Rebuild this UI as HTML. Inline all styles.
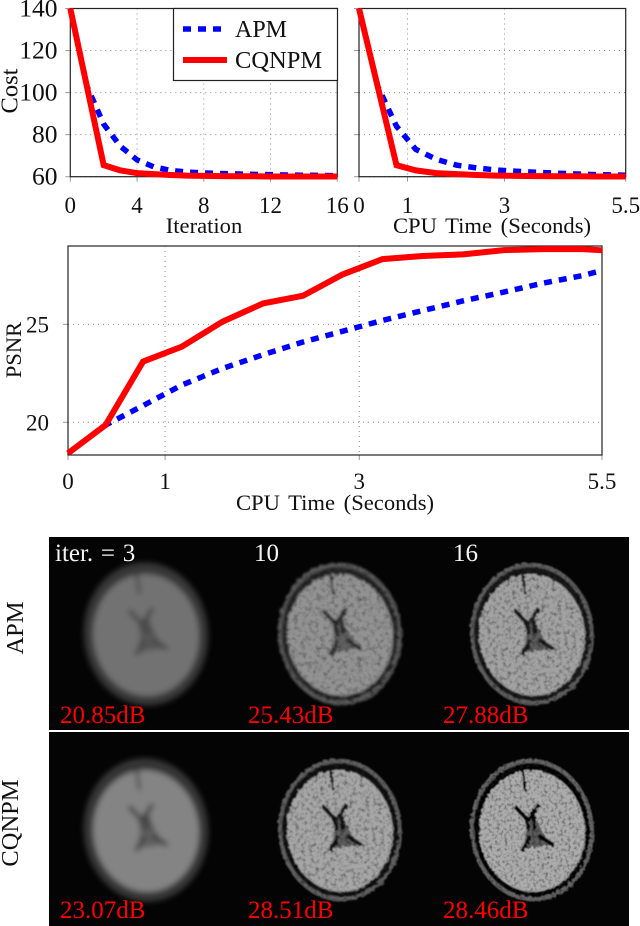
<!DOCTYPE html>
<html lang="en">
<head>
<meta charset="utf-8">
<title>APM vs CQNPM comparison</title>
<style>
html,body{margin:0;padding:0;background:#fff;width:640px;height:926px;overflow:hidden}
svg{display:block;font-family:"Liberation Serif",serif}
.tick{font-size:23px;fill:#111}
.title{font-size:22.6px;fill:#111}
.grid{stroke:#8a8a8a;stroke-width:1;stroke-dasharray:1 4;fill:none}
.frame{fill:none;stroke:#222;stroke-width:1.2}
.mark{stroke:#999;stroke-width:1}
.apm{fill:none;stroke:#0000ff;stroke-width:5.5;stroke-dasharray:8 7}
.cq{fill:none;stroke:#ff0000;stroke-width:6;stroke-linejoin:miter}
.db{font-size:25px;fill:#ff0000}
.it{font-size:25px;fill:#f4f4f4}
.row{font-size:24.5px;fill:#111}
</style>
</head>
<body>
<svg id="root" xmlns="http://www.w3.org/2000/svg" width="640" height="926" viewBox="0 0 640 926">
<defs>
<filter id="soft" x="-20%" y="-20%" width="140%" height="140%"><feGaussianBlur stdDeviation="3"/></filter>
<filter id="softer" x="-20%" y="-20%" width="140%" height="140%">
<feTurbulence type="fractalNoise" baseFrequency="0.2" numOctaves="2" seed="3" result="n"/>
<feDisplacementMap in="SourceGraphic" in2="n" scale="4" result="d"/>
<feGaussianBlur in="d" stdDeviation="1.3" result="b"/>
<feColorMatrix in="n" type="matrix" values="0 0 0 0 0  0 0 0 0 0  0 0 0 0 0  0 0 0 -1.2 0.68" result="spots"/>
<feComposite in="spots" in2="b" operator="in" result="sp"/>
<feMerge><feMergeNode in="b"/><feMergeNode in="sp"/></feMerge>
</filter>
<filter id="tex" x="-20%" y="-20%" width="140%" height="140%">
<feTurbulence type="fractalNoise" baseFrequency="0.25" numOctaves="2" seed="4" result="n"/>
<feDisplacementMap in="SourceGraphic" in2="n" scale="4" result="d"/>
<feGaussianBlur in="d" stdDeviation="0.8" result="b"/>
<feColorMatrix in="n" type="matrix" values="0 0 0 0 0  0 0 0 0 0  0 0 0 0 0  0 0 0 -1.5 0.85" result="spots"/>
<feComposite in="spots" in2="b" operator="in" result="sp"/>
<feMerge><feMergeNode in="b"/><feMergeNode in="sp"/></feMerge>
</filter>
<filter id="tex2" x="-20%" y="-20%" width="140%" height="140%">
<feTurbulence type="fractalNoise" baseFrequency="0.32" numOctaves="2" seed="9" result="n"/>
<feDisplacementMap in="SourceGraphic" in2="n" scale="4" result="d"/>
<feGaussianBlur in="d" stdDeviation="0.5" result="b"/>
<feColorMatrix in="n" type="matrix" values="0 0 0 0 0  0 0 0 0 0  0 0 0 0 0  0 0 0 -1.8 1" result="spots"/>
<feComposite in="spots" in2="b" operator="in" result="sp"/>
<feMerge><feMergeNode in="b"/><feMergeNode in="sp"/></feMerge>
</filter>
</defs>
<g id="panels"></g>
<g>
<text class="it" x="55" y="561" word-spacing="1.5">iter. = 3</text>
<text class="it" x="254" y="561">10</text>
<text class="it" x="453" y="561">16</text>
<text class="db" x="60" y="723">20.85dB</text>
<text class="db" x="248" y="723">25.43dB</text>
<text class="db" x="443" y="723">27.88dB</text>
<text class="db" x="60" y="918">23.07dB</text>
<text class="db" x="248" y="918">28.51dB</text>
<text class="db" x="443" y="918">28.46dB</text>
<text class="row" text-anchor="middle" transform="translate(23,628) rotate(-90)">APM</text>
<text class="row" text-anchor="middle" transform="translate(18,823) rotate(-90)">CQNPM</text>
</g>
<g id="charts"></g>
<g>
<rect x="173.5" y="8.5" width="164" height="72" fill="#fff" stroke="#222" stroke-width="1.2"/>
<line class="apm" x1="183" y1="29" x2="227" y2="29"/>
<line class="cq" x1="183" y1="60" x2="227" y2="60"/>
<text x="235" y="37" font-size="24" fill="#111">APM</text>
<text x="235" y="68" font-size="24.5" fill="#111">CQNPM</text>
</g>
</svg>
<script>
// Cost vs iteration
const iterations = [0,1,2,3,4,5,6,7,8,9,10,11,12,13,14,15,16];
const costApmByIter = [140,103,85,74.5,68,64.7,63,62.2,61.8,61.5,61.3,61.1,61,60.8,60.7,60.6,60.5];
const costCqByIter = [140,102.7,65.5,63,61.7,61.2,60.8,60.5,60.4,60.3,60.2,60.2,60.1,60.1,60.1,60.1,60.1];
// Cost vs CPU time
const times = [0,0.387,0.773,1.172,1.592,2.01,2.42,2.83,3.24,3.65,4.07,4.49,4.89,5.31,5.5];
const costApmByTime = [140,103,84,73,68.3,65.5,64.2,63.2,62.6,62.1,61.7,61.3,61,60.8,60.7];
const costCqByTime = [140,102.7,65.5,63,61.7,61.2,60.8,60.5,60.4,60.3,60.2,60.2,60.1,60.1,60.1];
// PSNR vs CPU time
const psnrApm = [18.42,19.86,20.85,21.9,22.75,23.45,24.1,24.65,25.2,25.7,26.2,26.65,27.1,27.5,27.75];
const psnrCq = [18.42,19.86,23.1,23.86,25.14,26.07,26.46,27.55,28.33,28.49,28.57,28.79,28.84,28.84,28.78];
// Tick labels
const iterTicks = [0,4,8,12,16];
const timeTicks = [0,1,3,5.5];
const costTicks = [60,80,100,120,140];
const psnrTicks = [20,25];

const NS = 'http://www.w3.org/2000/svg';
function mk(parent, tag, attrs, text) {
  const e = document.createElementNS(NS, tag);
  for (const k in attrs) e.setAttribute(k, attrs[k]);
  if (text !== undefined) e.textContent = text;
  parent.appendChild(e);
  return e;
}
function scale(d0, d1, r0, r1) {
  return v => r0 + (v - d0) / (d1 - d0) * (r1 - r0);
}
function chart(cfg) {
  const root = document.getElementById('charts');
  const g = mk(root, 'g', {});
  
  
  const sx = scale(cfg.xd[0], cfg.xd[1], cfg.l, cfg.r);
  const sy = scale(cfg.yd[0], cfg.yd[1], cfg.b, cfg.t);
  cfg.xTicks.forEach(v => {
    const x = sx(v);
    if (v !== cfg.xd[0] && v !== cfg.xd[1]) {
      const gl = mk(g, 'line', {class:'grid', x1:x, x2:x, y1:cfg.t, y2:cfg.b});
      
      
    }
    const tk = mk(g, 'line', {class:'mark', x1:x, x2:x, y1:cfg.b, y2:cfg.b + 5});
    
    
    const lb = mk(g, 'text', {class:'tick', x:x, y:cfg.xLabelY, 'text-anchor':'middle'}, v);
    
    
  });
  cfg.yTicks.forEach(v => {
    const y = sy(v);
    if (v !== cfg.yd[1]) {
      const gl = mk(g, 'line', {class:'grid', x1:cfg.l, x2:cfg.r, y1:y, y2:y});
      
      
    }
    const tk = mk(g, 'line', {class:'mark', x1:cfg.l - 5, x2:cfg.l, y1:y, y2:y});
    
    
    if (cfg.yLabels) {
      const lb = mk(g, 'text', {class:'tick', x:cfg.yLabelX, y:y + 8, 'text-anchor':'end', 'font-size':cfg.yFont, style:'font-size:' + cfg.yFont + 'px'}, v);
      
      
    }
  });
  const fr = mk(g, 'rect', {class:'frame', x:cfg.l, y:cfg.t, width:cfg.r - cfg.l, height:cfg.b - cfg.t});
  
  
  const pts = (xs, ys) => xs.map((x, i) => sx(x).toFixed(2) + ',' + sy(ys[i]).toFixed(2)).join(' ');
  const a = mk(g, 'polyline', {class:'apm', points:pts(cfg.xs, cfg.apm)});
  
  
  const c = mk(g, 'polyline', {class:'cq', points:pts(cfg.xs, cfg.cq)});
  
  
  const xt = mk(g, 'text', {class:'title', x:cfg.xTitleX, y:cfg.xTitleY, 'text-anchor':'middle', 'word-spacing':cfg.ws || 0}, cfg.xTitle);
  
  
  if (cfg.yTitle) {
    const yt = mk(g, 'text', {class:'title', 'text-anchor':'middle', style:'font-size:' + cfg.yTitleFont + 'px', transform:'translate(' + cfg.yTitleX + ',' + cfg.yTitleY + ') rotate(-90)'}, cfg.yTitle);
    
    
  }
}
chart({name:'cost-vs-iteration-chart', l:70.3, r:337.3, t:8.5, b:176.7, xd:[0,16], yd:[60,140],
  xs:iterations, apm:costApmByIter, cq:costCqByIter, xTicks:iterTicks, yTicks:costTicks, yLabels:true, yLabelX:57.5, yFont:25.5,
  xLabelY:213, xTitle:'Iteration', xTitleX:204, xTitleY:233, yTitle:'Cost', yTitleX:17.5, yTitleY:91, yTitleFont:24.5});
chart({name:'cost-vs-time-chart', l:359, r:625.7, t:8.5, b:176.7, xd:[0,5.5], yd:[60,140],
  xs:times, apm:costApmByTime, cq:costCqByTime, xTicks:timeTicks, yTicks:costTicks, yLabels:false,
  xLabelY:213, xTitle:'CPU Time (Seconds)', xTitleX:492, xTitleY:233, ws:3});
chart({name:'psnr-vs-time-chart', l:68, r:602, t:246, b:455, xd:[0,5.5], yd:[18.33,29],
  xs:times, apm:psnrApm, cq:psnrCq, xTicks:timeTicks, yTicks:psnrTicks, yLabels:true, yLabelX:49, yFont:23,
  xLabelY:489, xTitle:'CPU Time (Seconds)', xTitleX:335, xTitleY:510, ws:3, yTitle:'PSNR', yTitleX:21, yTitleY:350, yTitleFont:22.5});

// Brain reconstruction panels
const panelList = [
 {n:'apm-iter-3', cx:146,cy:634,f:'soft',skull:'#3a3a3a',ring:'#353535',brain:'#727272',mid:'#575757',vent:'#444'},
 {n:'apm-iter-10', cx:340,cy:634,f:'softer',skull:'#5a5a5a',ring:'#262626',brain:'#929292',mid:'#5e5e5e',vent:'#2e2e2e'},
 {n:'apm-iter-16', cx:532,cy:634,f:'tex',skull:'#5e5e5e',ring:'#1c1c1c',brain:'#a2a2a2',mid:'#5c5c5c',vent:'#1c1c1c'},
 {n:'cqnpm-iter-3', cx:146,cy:830,f:'soft',skull:'#3e3e3e',ring:'#2e2e2e',brain:'#848484',mid:'#5e5e5e',vent:'#3a3a3a'},
 {n:'cqnpm-iter-10', cx:340,cy:830,f:'tex',skull:'#606060',ring:'#141414',brain:'#a6a6a6',mid:'#5c5c5c',vent:'#141414'},
 {n:'cqnpm-iter-16', cx:532,cy:830,f:'tex2',skull:'#666',ring:'#101010',brain:'#acacac',mid:'#5c5c5c',vent:'#101010'}
];
const pg = document.getElementById('panels');
const rowA = mk(pg, 'rect', {x:49, y:537, width:580, height:193, fill:'#040404'});


const rowB = mk(pg, 'rect', {x:49, y:732, width:580, height:194, fill:'#040404'});


panelList.forEach(p => {
  const g = mk(pg, 'g', {transform:'translate(' + p.cx + ',' + p.cy + ') rotate(-5)', filter:'url(#' + p.f + ')'});
  
  
  mk(g, 'ellipse', {cx:0, cy:0, rx:62, ry:71.5, fill:p.skull});
  mk(g, 'ellipse', {cx:0, cy:0, rx:58, ry:67, fill:p.ring});
  mk(g, 'ellipse', {cx:0, cy:1, rx:53, ry:61, fill:p.brain});
  mk(g, 'path', {d:'M-4,-60 L-3,-40', stroke:p.ring, 'stroke-width':2.5, fill:'none'});
  mk(g, 'path', {d:'M-3,-12 L-10,18 L16,16 L5,-10 Z', fill:p.mid});
  mk(g, 'path', {d:'M-15,-25 L-3,-10 L9,-25 M-5,-14 L-3,0 M3,-14 L3,0', stroke:p.vent, 'stroke-width':4, fill:'none'});
  mk(g, 'path', {d:'M-12,20 L-2,6 M6,6 L20,17', stroke:p.vent, 'stroke-width':4, fill:'none'});
});
</script>
</body>
</html>
